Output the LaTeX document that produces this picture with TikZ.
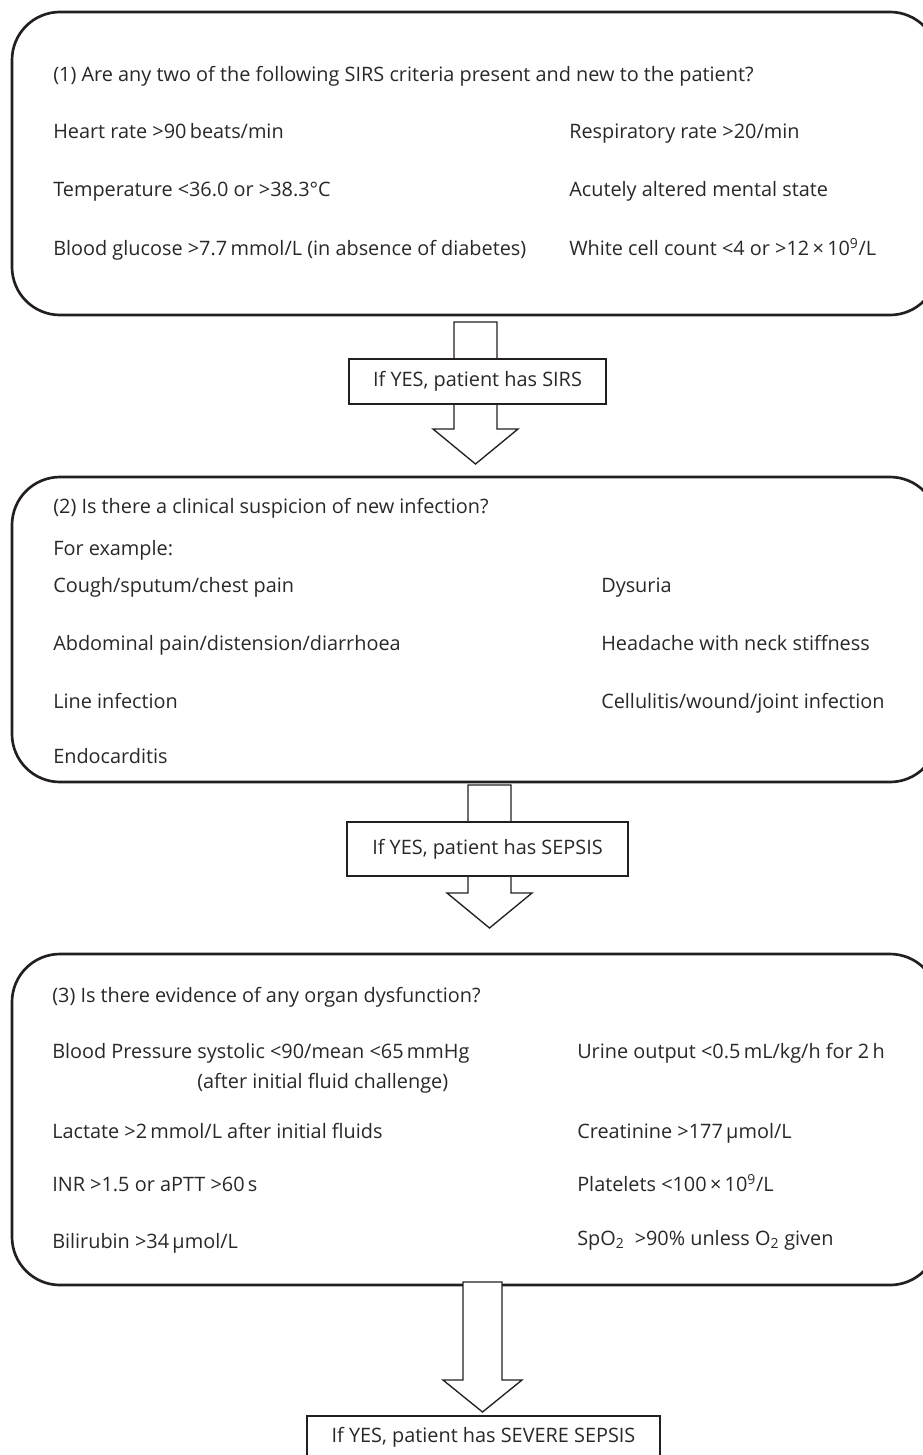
\documentclass[tikz,border=0pt]{standalone}
\usepackage{fontspec}
\setmainfont{Open Sans}
\definecolor{inkline}{HTML}{231F20}
\definecolor{inktext}{HTML}{2A2728}
\newcommand\blockarr[6]{\draw[arrowline] (#1-#5,#2) -- (#1-#5,#3) -- (#1-#6,#3) -- (#1,#4) -- (#1+#6,#3) -- (#1+#5,#3) -- (#1+#5,#2) -- cycle;}
\begin{document}
\begin{tikzpicture}[x=0.75pt,y=-0.75pt,
  bigbox/.style={draw=inkline,line width=2pt,rounded corners=36pt},
  arrowline/.style={draw=inkline,line width=1pt,fill=white},
  txt/.style={anchor=base west,inner sep=0pt,text=inktext,font=\fontsize{14.9}{18}\selectfont},
  labelbox/.style={draw=inkline,line width=1pt,fill=white,inner sep=0pt,text=inktext,font=\fontsize{14.9}{18}\selectfont}]
\useasboundingbox (0,0) rectangle (923,1455);
% box 1
\draw[bigbox] (12,12) rectangle (938,315);
\node[txt] (t1) at (53,82) {(1) Are any two of the following SIRS criteria present and new to the patient?};
\node[txt] (a1) at (53,139) {Heart rate >90\,beats/min};
\node[txt] (a2) at (53,197) {Temperature <36.0 or >38.3°C};
\node[txt] (a3) at (53,255) {Blood glucose >7.7\,mmol/L (in absence of diabetes)};
\node[txt] (b1) at (569,139) {Respiratory rate >20/min};
\node[txt] (b2) at (569,197) {Acutely altered mental state};
\node[txt] (b3) at (569,255) {White cell count <4 or >12\,×\,10\textsuperscript{9}/L};
% arrow 1
\blockarr{475.5}{322}{429}{464}{21.5}{42.5}
\node[labelbox,minimum width=192.75pt,minimum height=33.75pt] (L1) at (477.5,381.5) {If YES, patient has SIRS};
% box 2
\draw[bigbox] (12,477) rectangle (938,782);
\node[txt] (t2) at (53,513) {(2) Is there a clinical suspicion of new infection?};
\node[txt] (c0) at (53,555) {For example:};
\node[txt] (c1) at (53,592) {Cough/sputum/chest pain};
\node[txt] (c2) at (53,650) {Abdominal pain/distension/diarrhoea};
\node[txt] (c3) at (53,708) {Line infection};
\node[txt] (c4) at (53,763) {Endocarditis};
\node[txt] (d1) at (601,592) {Dysuria};
\node[txt] (d2) at (601,650) {Headache with neck stiffness};
\node[txt] (d3) at (601,708) {Cellulitis/wound/joint infection};
% arrow 2
\blockarr{489.5}{785}{893}{928}{21.5}{42.5}
\node[labelbox,minimum width=210.75pt,minimum height=40.5pt] (L2) at (487.5,849) {If YES, patient has SEPSIS};
% box 3
\draw[bigbox] (12,954) rectangle (938,1285);
\node[txt] (t3) at (52,1002) {(3) Is there evidence of any organ dysfunction?};
\node[txt] (e1) at (52,1058) {Blood Pressure systolic <90/mean <65\,mmHg};
\node[txt] (e1b) at (197,1088) {(after initial fluid challenge)};
\node[txt] (e2) at (52,1138) {Lactate >2\,mmol/L after initial fluids};
\node[txt] (e3) at (52,1191) {INR >1.5 or aPTT >60\,s};
\node[txt] (e4) at (52,1248) {Bilirubin >34\,µmol/L};
\node[txt] (f1) at (577,1058) {Urine output <0.5\,mL/kg/h for 2\,h};
\node[txt] (f2) at (577,1138) {Creatinine >177\,µmol/L};
\node[txt] (f3) at (577,1191) {Platelets <100\,×\,10\textsuperscript{9}/L};
\node[txt] (f4) at (577,1245) {SpO\textsubscript{2}\ \ >90\% unless O\textsubscript{2} given};
% arrow 3
\blockarr{482.5}{1282}{1380}{1412}{19.5}{39.5}
\node[labelbox,minimum width=264.75pt,minimum height=31.5pt] (L3) at (483.5,1437) {If YES, patient has SEVERE SEPSIS};
\end{tikzpicture}
\end{document}
